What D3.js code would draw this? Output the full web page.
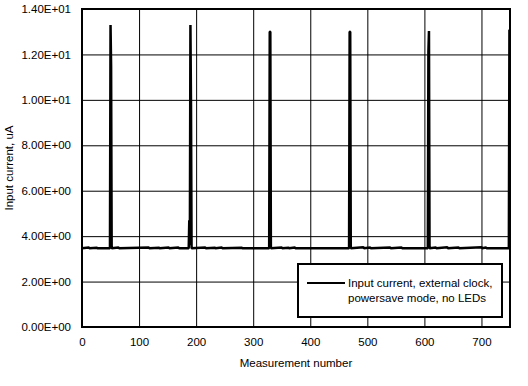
<!doctype html>
<html>
<head>
<meta charset="utf-8">
<style>
	body { margin: 0; background: #fff; }
	text { font-family: "Liberation Sans", Arial, sans-serif; font-size: 11.5px; fill: #000; }
</style>
</head>
<body>
	<div class="figure"></div>

	<script src="https://d3js.org/d3.v7.min.js"></script>
	<script>
		let sampleN = [0, 12, 13, 26, 27, 49, 50, 51, 52, 64, 65, 117, 118, 135, 136, 152, 153, 169, 170,
			187, 188, 189, 190, 191, 192, 216, 217, 233, 234, 245, 246, 280, 281,
			328, 329, 330, 331, 350, 351, 362, 363, 373, 374,
			468, 469, 470, 471, 493, 494, 505, 506, 540, 541, 560, 561,
			606, 607, 608, 609, 620, 621, 640, 641, 660, 661, 700, 701, 708, 709, 747, 748, 749, 750];
		let sampleI = [3.47, 3.50, 3.47, 3.49, 3.47, 3.47, 13.3, 11.5, 3.47, 3.50, 3.47, 3.50, 3.47, 3.49, 3.47, 3.50, 3.47, 3.50, 3.47,
			3.47, 4.7, 3.6, 13.3, 9.8, 3.47, 3.50, 3.47, 3.49, 3.47, 3.50, 3.47, 3.49, 3.47,
			3.47, 13.0, 13.0, 3.47, 3.50, 3.47, 3.49, 3.47, 3.50, 3.47,
			3.47, 13.0, 13.0, 3.47, 3.51, 3.47, 3.50, 3.47, 3.50, 3.47, 3.50, 3.47,
			3.47, 12.1, 13.03, 3.47, 3.50, 3.47, 3.51, 3.47, 3.50, 3.47, 3.51, 3.47, 3.50, 3.47, 3.47, 3.47, 13.07, 13.07];

		let xTicks = [0, 100, 200, 300, 400, 500, 600, 700];
		let yTicks = [0, 2, 4, 6, 8, 10, 12, 14];
		let legendLines = ["Input current, external clock,", "powersave mode, no LEDs"];

		let svg = d3.select(".figure")
			.append("svg")
			.attr("width", "528")
			.attr("height", "386");

		let pLeft = 82, pRight = 510, pTop = 9, pBottom = 327;

		let x = d3.scaleLinear().domain([0, 750]).range([pLeft, pRight]);
		let y = d3.scaleLinear().domain([0, 14]).range([pBottom, pTop]);

		// сетка
		svg.append("g")
			.attr("transform", "translate(0," + pBottom + ")")
			.call(d3.axisBottom(x).tickValues(xTicks).tickSize(-(pBottom - pTop)).tickFormat(d => d))
			.call(g => g.select(".domain").remove())
			.call(g => g.selectAll("line").attr("stroke", "#000").attr("stroke-width", 1))
			.call(g => g.selectAll("text").attr("y", 15).attr("dy", "0.35em").style("font-size", "11.5px").style("font-family", "Liberation Sans, Arial, sans-serif"));

		svg.append("g")
			.attr("transform", "translate(" + pLeft + ",0)")
			.call(d3.axisLeft(y).tickValues(yTicks).tickSize(-(pRight - pLeft)).tickFormat(d => d.toExponential(2).replace("e", "E").replace(/E([+-])(\d)$/, "E$10$2")))
			.call(g => g.select(".domain").remove())
			.call(g => g.selectAll("line").attr("stroke", "#000").attr("stroke-width", 1))
			.call(g => g.selectAll("text").attr("x", -11).style("font-size", "11.5px").style("font-family", "Liberation Sans, Arial, sans-serif"));

		// кривая
		let pts = sampleN.map((n, i) => [n, sampleI[i]]);
		svg.append("path")
			.datum(pts)
			.attr("fill", "none")
			.attr("stroke", "#000")
			.attr("stroke-width", 2.5)
			.attr("stroke-linejoin", "bevel")
			.attr("d", d3.line().x(d => x(d[0])).y(d => y(d[1])));

		// рамка
		svg.append("rect")
			.attr("x", pLeft).attr("y", pTop)
			.attr("width", pRight - pLeft).attr("height", pBottom - pTop)
			.attr("fill", "none").attr("stroke", "#000").attr("stroke-width", 2);

		// подписи осей
		svg.append("text")
			.attr("x", (pLeft + pRight) / 2).attr("y", 367)
			.attr("text-anchor", "middle")
			.text("Measurement number");

		svg.append("text")
			.attr("transform", "translate(13," + (pTop + pBottom) / 2 + ") rotate(-90)")
			.attr("text-anchor", "middle")
			.text("Input current, uA");

		// легенда
		let leg = svg.append("g");
		leg.append("rect")
			.attr("x", 298).attr("y", 264).attr("width", 204).attr("height", 53)
			.attr("fill", "#fff").attr("stroke", "#000").attr("stroke-width", 2);
		leg.append("line")
			.attr("x1", 307).attr("x2", 345).attr("y1", 283).attr("y2", 283)
			.attr("stroke", "#000").attr("stroke-width", 2);
		leg.selectAll("text.l")
			.data(legendLines)
			.join("text")
			.attr("class", "l")
			.attr("x", 348)
			.attr("y", (d, i) => 287 + i * 15)
			.text(d => d);
	</script>
</body>
</html>
